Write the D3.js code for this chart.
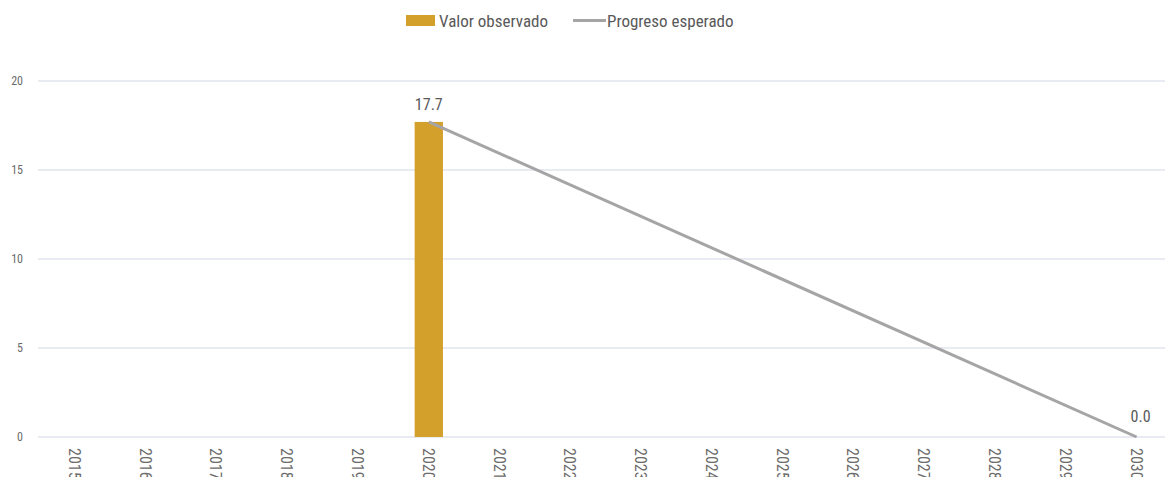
<!DOCTYPE html>
<html><head><meta charset="utf-8">
<script src="https://cdn.jsdelivr.net/npm/d3@7"></script>
<style>body{margin:0;background:#fff}svg{display:block}</style>
</head><body>
<script>
const years = ["2015","2016","2017","2018","2019","2020","2021","2022","2023","2024","2025","2026","2027","2028","2029","2030"];
const observed = [null,null,null,null,null,17.7,null,null,null,null,null,null,null,null,null,null];
const expectedYears = ["2020","2030"];
const expectedValues = [17.7,0.0];
const yTicks = [0,5,10,15,20];
const seriesNames = ["Valor observado","Progreso esperado"];

const W=1165,H=477;
const font = "'Liberation Sans Narrow','Arial Narrow','Roboto Condensed',sans-serif";
const svg = d3.select("body").append("svg").attr("width",W).attr("height",H);
const x = d3.scaleBand().domain(years).range([39.5,1172]).paddingInner(0.6).paddingOuter(0.3);
const y = d3.scaleLinear().domain([0,20]).range([437,81]);
const cx = d => x(d)+x.bandwidth()/2;

// grid
svg.append("g").selectAll("line").data(yTicks).join("line")
  .attr("x1",38).attr("x2",1165).attr("y1",d=>y(d)).attr("y2",d=>y(d))
  .attr("stroke","#e2e5ef").attr("stroke-width",1.5);
svg.append("g").selectAll("text").data(yTicks).join("text")
  .attr("x",23).attr("y",d=>y(d)+4).attr("text-anchor","end")
  .attr("font-family",font).attr("font-size",12).attr("fill","#6b6b6b").text(d=>d);

// x labels rotated
svg.append("g").selectAll("text").data(years).join("text")
  .attr("transform",d=>`translate(${cx(d)-6},448) rotate(90)`)
  .attr("font-family",font).attr("font-size",16).attr("fill","#6b6b6b").text(d=>d);

// bars
const obs = years.map((d,i)=>({year:d,v:observed[i]})).filter(d=>d.v!=null);
svg.append("g").selectAll("rect").data(obs).join("rect")
  .attr("x",d=>x(d.year)).attr("width",x.bandwidth())
  .attr("y",d=>y(d.v)).attr("height",d=>y(0)-y(d.v)).attr("fill","#d4a02c");

// line
const exp = expectedYears.map((d,i)=>({year:d,v:expectedValues[i]}));
svg.append("path").datum(exp)
  .attr("d",d3.line().x(d=>cx(d.year)).y(d=>y(d.v)))
  .attr("fill","none").attr("stroke","#a5a5a5").attr("stroke-width",3);

// labels
svg.append("text").attr("x",cx(obs[0].year)).attr("y",y(obs[0].v)-12).attr("text-anchor","middle")
  .attr("font-family",font).attr("font-size",16).attr("fill","#595959").text(obs[0].v.toFixed(1));
svg.append("text").attr("x",cx(exp[1].year)+4).attr("y",y(exp[1].v)-15).attr("text-anchor","middle")
  .attr("font-family",font).attr("font-size",16).attr("fill","#595959").text(exp[1].v.toFixed(1));

// legend
const lg = svg.append("g");
lg.append("rect").attr("x",406).attr("y",15).attr("width",29).attr("height",11).attr("fill","#d4a02c");
lg.append("text").attr("x",439).attr("y",27).attr("font-family",font).attr("font-size",17).attr("fill","#595959").text(seriesNames[0]);
lg.append("line").attr("x1",573).attr("x2",606).attr("y1",20.5).attr("y2",20.5).attr("stroke","#a5a5a5").attr("stroke-width",3);
lg.append("text").attr("x",607).attr("y",27).attr("font-family",font).attr("font-size",17).attr("fill","#595959").text(seriesNames[1]);
</script>
</body></html>
